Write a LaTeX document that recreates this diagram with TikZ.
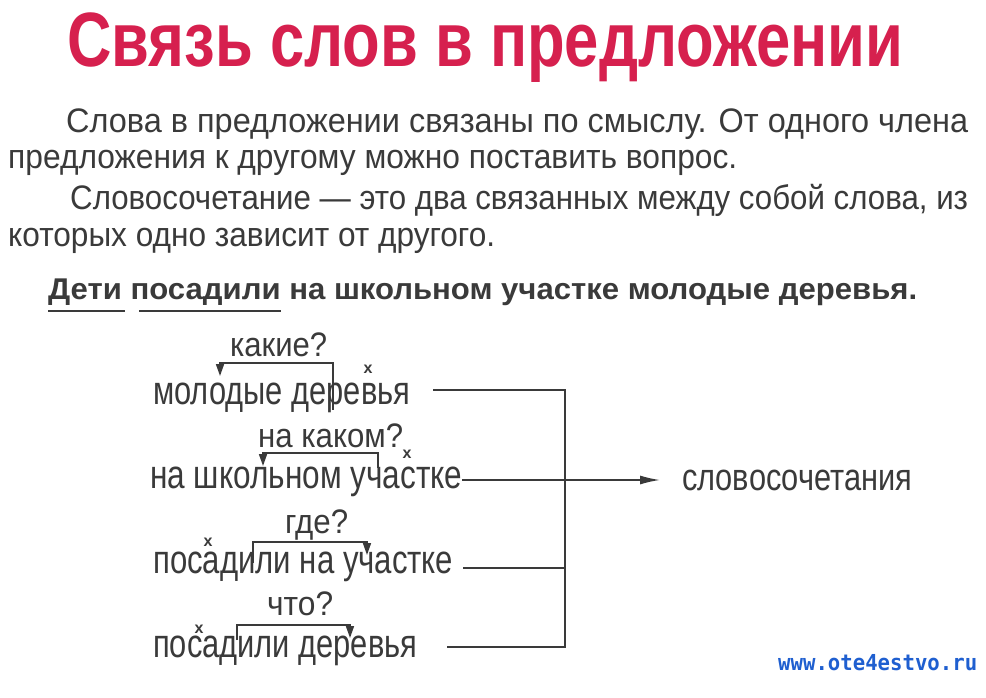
\documentclass[tikz,border=0pt]{standalone}
\usepackage{fontspec}
\setmainfont{Liberation Sans}
\newfontfamily\urlfont{DejaVu Sans Mono}
\usetikzlibrary{arrows.meta}
\definecolor{ink}{HTML}{3A3A3A}
\definecolor{crim}{HTML}{D6204E}
\definecolor{web}{HTML}{1F5FD0}
\newcommand{\fitw}[3]{\resizebox{#1}{\height}{\fontsize{#2}{#2}\selectfont #3}}
\tikzset{
  txt/.style={anchor=base west, inner sep=0pt, text=ink},
  link/.style={draw=ink, line width=1.6pt},
  xmark/.style={anchor=center, inner sep=0pt, text=ink, font=\fontsize{16}{16}\selectfont\bfseries},
}
\begin{document}
\begin{tikzpicture}[x=1pt,y=-1pt]
\useasboundingbox[fill=white] (0,0) rectangle (986,698);
% title
\node[anchor=base west, inner sep=0pt, text=crim] (title) at (67,67)
  {\fitw{836pt}{77}{\bfseries Связь слов в предложении}};
% paragraph
\node[txt] (p1) at (66,133) {\fitw{902pt}{34}{Слова в предложении связаны по смыслу. От одного члена}};
\node[txt] (p2) at (8,169) {\fitw{729pt}{34}{предложения к другому можно поставить вопрос.}};
\node[txt] (p3) at (70,210) {\fitw{898pt}{34}{Словосочетание — это два связанных между собой слова, из}};
\node[txt] (p4) at (8,246) {\fitw{487pt}{34}{которых одно зависит от другого.}};
% example sentence
\node[txt] (ex) at (48,299) {\fitw{869pt}{30}{\bfseries Дети посадили на школьном участке молодые деревья.}};
\draw[ink, line width=2.6pt] (48,311) -- (125,311);
\draw[ink, line width=2.6pt] (139,311) -- (281,311);
% phrases
\node[txt] (w1) at (153,404) {\fitw{257pt}{40}{молодые деревья}};
\node[txt] (q1) at (230,356) {\fitw{97pt}{34}{какие?}};
\node[txt] (w2) at (150,488) {\fitw{312pt}{40}{на школьном участке}};
\node[txt] (q2) at (258,447) {\fitw{145pt}{34}{на каком?}};
\node[txt] (w3) at (153,573) {\fitw{300pt}{40}{посадили на участке}};
\node[txt] (q3) at (285,533) {\fitw{63pt}{34}{где?}};
\node[txt] (w4) at (153,657) {\fitw{264pt}{40}{посадили деревья}};
\node[txt] (q4) at (267,615) {\fitw{66pt}{34}{что?}};
\node[txt] (res) at (682,490) {\fitw{230pt}{38}{словосочетания}};
\node[anchor=base west, inner sep=0pt, text=web] (url) at (778,670)
  {\fitw{199pt}{22}{\urlfont\bfseries www.ote4estvo.ru}};
% main-word marks
\node[xmark] (x1) at (368,369) {x};
\node[xmark] (x2) at (407,454) {x};
\node[xmark] (x3) at (208,542) {x};
\node[xmark] (x4) at (199,629) {x};
% question brackets
\draw[link, {Triangle[length=12pt,width=8pt]}-] (220,376) -- (220,363) -- (333,363) -- (333,410);
\draw[link, {Triangle[length=12pt,width=8pt]}-] (263,466) -- (263,453) -- (378,453) -- (378,468);
\draw[link, -{Triangle[length=12pt,width=8pt]}] (253,563) -- (253,542) -- (367,542) -- (367,555);
\draw[link, -{Triangle[length=12pt,width=8pt]}] (237,640) -- (237,625) -- (350,625) -- (350,638);
% collecting bracket
\coordinate (j1) at (565,390);
\coordinate (j2) at (565,480);
\coordinate (j3) at (565,568);
\coordinate (j4) at (565,647);
\coordinate (s1) at (433,390);
\coordinate (s2) at (w2.east |- j2);
\coordinate (s3) at (463,568);
\coordinate (s4) at (447,647);
\draw[link] (s1) -- (j1) -- (j4) -- (s4);
\draw[link] (s3) -- (j3);
\draw[link, -{Latex[length=20pt,width=9pt]}] (s2) -- (j2) -- ([xshift=-22pt]res.west |- j2);
\end{tikzpicture}
\end{document}
